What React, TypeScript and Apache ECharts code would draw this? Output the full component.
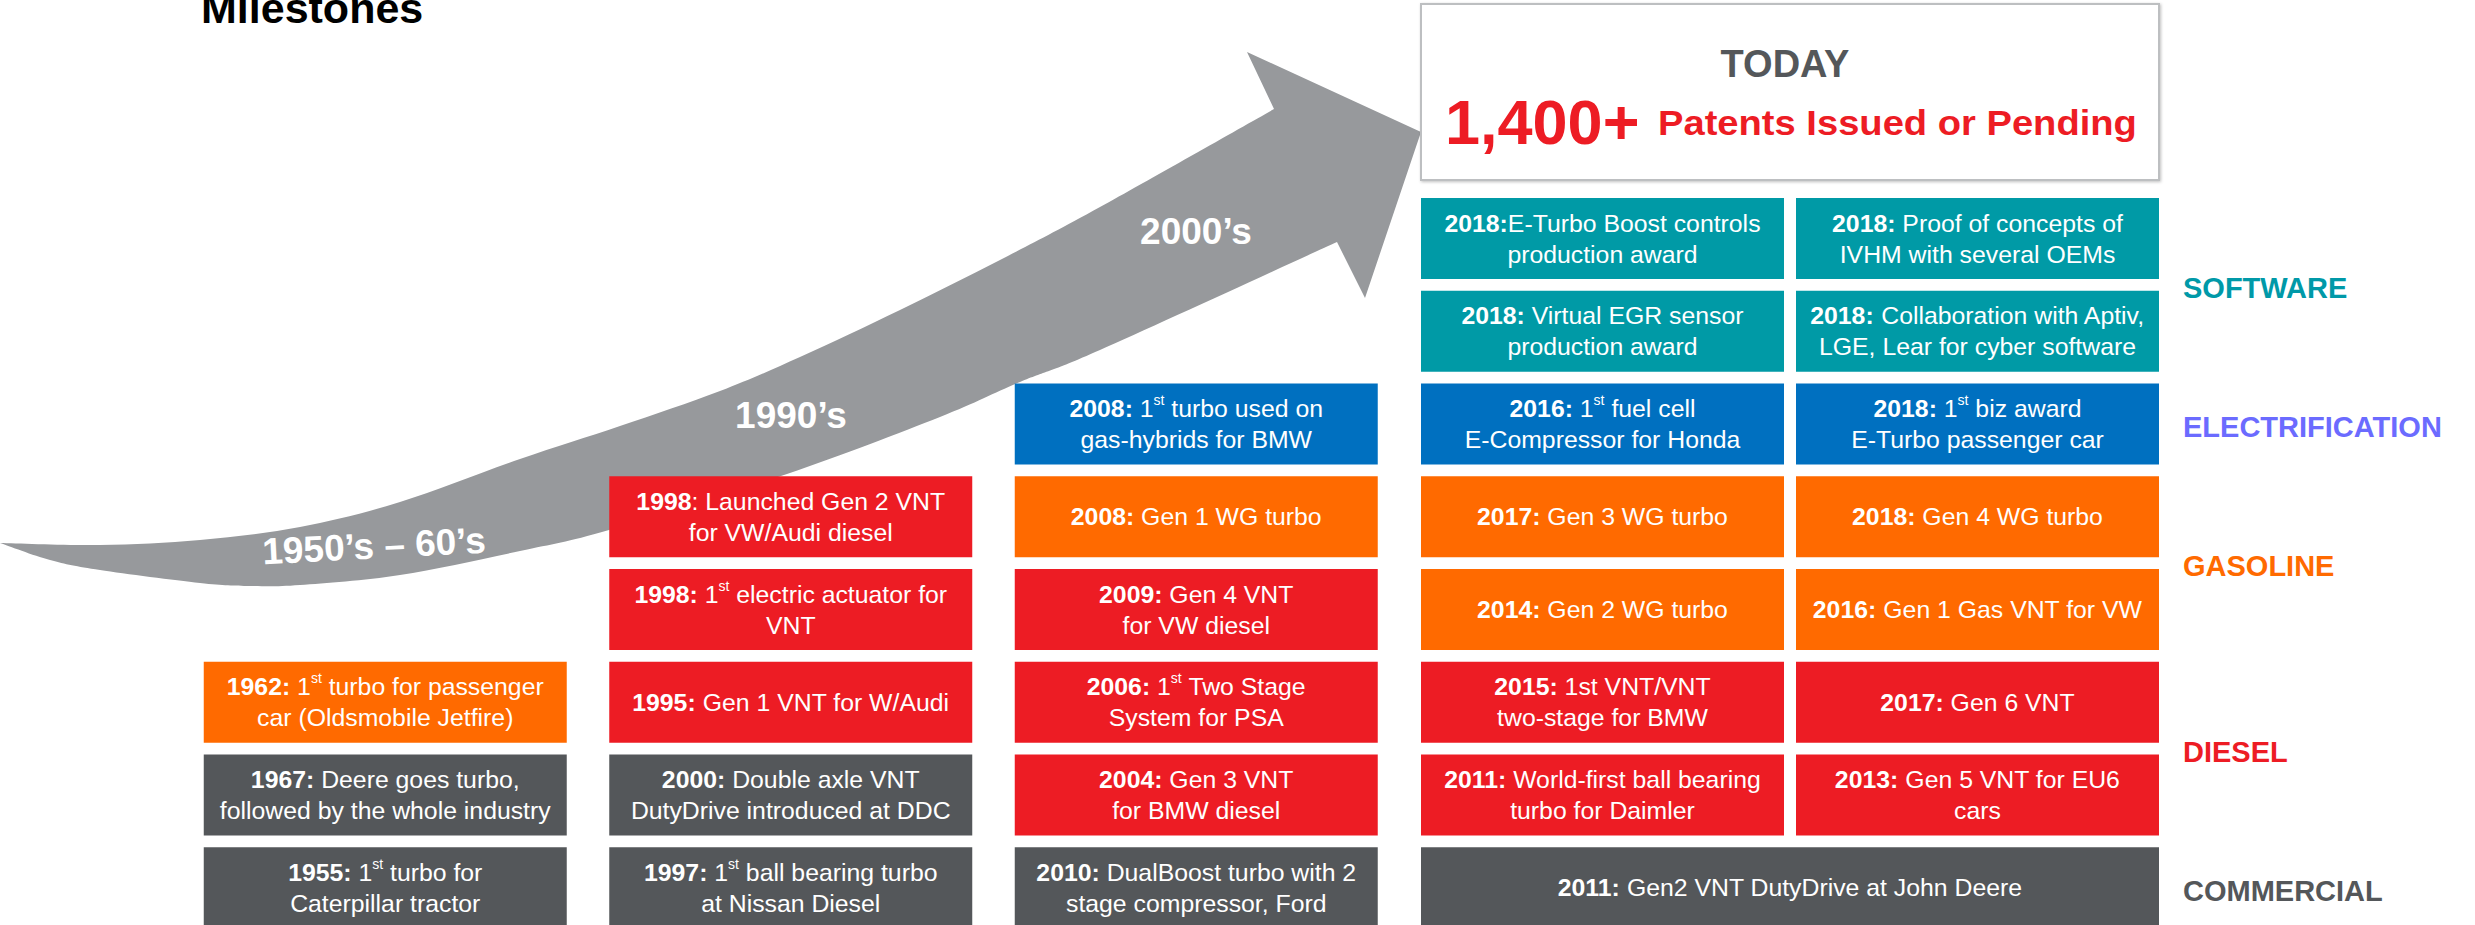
import React, { useEffect, useRef } from 'react';
import * as echarts from 'echarts';

const FONT = "'Liberation Sans', Arial, Helvetica, sans-serif";

// ---------- data ----------
const chartTitle = 'Milestones';
const todayLabel = 'TODAY';
const patentCount = '1,400+';
const patentText = 'Patents Issued or Pending';

const historyColumns = ['1950s-60s', '1990s', '2000s'];
const todayColumns = ['Today A', 'Today B'];
const rowNames = [
  'Software 1', 'Software 2', 'Electrification', 'Gasoline 1',
  'Gasoline 2', 'Diesel 1', 'Diesel 2', 'Commercial',
];

const eraLabels = ['1950\u2019s \u2013 60\u2019s', '1990\u2019s', '2000\u2019s'];

const segmentNames = ['SOFTWARE', 'ELECTRIFICATION', 'GASOLINE', 'DIESEL', 'COMMERCIAL'];
const segmentFirstRow = [0, 2, 3, 5, 7];
const segmentLastRow = [1, 2, 4, 6, 7];
const segmentColors = ['#0099A8', '#6B6BFF', '#FF6A00', '#ED1C24', '#54575A'];

const kindColors: Record<string, string> = {
  software: '#009AA6',
  electrification: '#0070C0',
  gasoline: '#FF6A00',
  diesel: '#ED1C24',
  commercial: '#54575A',
};

// [column, row, column span, kind, bold year, text]  ("^st" = superscript)
type Milestone = [number, number, number, string, string, string];

const historyMilestones: Milestone[] = [
  [0, 5, 1, 'gasoline', '1962:', ' 1^st turbo for passenger\ncar (Oldsmobile Jetfire)'],
  [0, 6, 1, 'commercial', '1967:', ' Deere goes turbo,\nfollowed by the whole industry'],
  [0, 7, 1, 'commercial', '1955:', ' 1^st turbo for\nCaterpillar tractor'],
  [1, 3, 1, 'diesel', '1998', ': Launched Gen 2 VNT\nfor VW/Audi diesel'],
  [1, 4, 1, 'diesel', '1998:', ' 1^st electric actuator for\nVNT'],
  [1, 5, 1, 'diesel', '1995:', ' Gen 1 VNT for W/Audi'],
  [1, 6, 1, 'commercial', '2000:', ' Double axle VNT\nDutyDrive introduced at DDC'],
  [1, 7, 1, 'commercial', '1997:', ' 1^st ball bearing turbo\nat Nissan Diesel'],
  [2, 2, 1, 'electrification', '2008:', ' 1^st turbo used on\ngas-hybrids for BMW'],
  [2, 3, 1, 'gasoline', '2008:', ' Gen 1 WG turbo'],
  [2, 4, 1, 'diesel', '2009:', ' Gen 4 VNT\nfor VW diesel'],
  [2, 5, 1, 'diesel', '2006:', ' 1^st Two Stage\nSystem for PSA'],
  [2, 6, 1, 'diesel', '2004:', ' Gen 3 VNT\nfor BMW diesel'],
  [2, 7, 1, 'commercial', '2010:', ' DualBoost turbo with 2\nstage compressor, Ford'],
];

const todayMilestones: Milestone[] = [
  [0, 0, 1, 'software', '2018:', 'E-Turbo Boost controls\nproduction award'],
  [1, 0, 1, 'software', '2018:', ' Proof of concepts of\nIVHM with several OEMs'],
  [0, 1, 1, 'software', '2018:', ' Virtual EGR sensor\nproduction award'],
  [1, 1, 1, 'software', '2018:', ' Collaboration with Aptiv,\nLGE, Lear for cyber software'],
  [0, 2, 1, 'electrification', '2016:', ' 1^st fuel cell\nE-Compressor for Honda'],
  [1, 2, 1, 'electrification', '2018:', ' 1^st biz award\nE-Turbo passenger car'],
  [0, 3, 1, 'gasoline', '2017:', ' Gen 3 WG turbo'],
  [1, 3, 1, 'gasoline', '2018:', ' Gen 4 WG turbo'],
  [0, 4, 1, 'gasoline', '2014:', ' Gen 2 WG turbo'],
  [1, 4, 1, 'gasoline', '2016:', ' Gen 1 Gas VNT for VW'],
  [0, 5, 1, 'diesel', '2015:', ' 1st VNT/VNT\ntwo-stage for BMW'],
  [1, 5, 1, 'diesel', '2017:', ' Gen 6 VNT'],
  [0, 6, 1, 'diesel', '2011:', ' World-first ball bearing\nturbo for Daimler'],
  [1, 6, 1, 'diesel', '2013:', ' Gen 5 VNT for EU6\ncars'],
  [0, 7, 2, 'commercial', '2011:', ' Gen2 VNT DutyDrive at John Deere'],
];

// ---------- decorative arrow outline ----------
const ARROW_UPPER = [[0, 543], [100, 545], [200, 540], [300, 527], [400, 502], [520, 459], [620, 426], [720, 391], [800, 357], [900, 310], [1000, 260], [1100, 207], [1274, 109]];
const ARROW_HEAD = [[1247, 52], [1421, 132], [1365, 298], [1337, 242]];
const ARROW_LOWER = [[1337, 242], [1100, 350], [1020, 382], [940, 417], [787, 474], [609, 530], [520, 551], [400, 575], [300, 585], [250, 586], [200, 583], [100, 570], [50, 560], [0, 543]];

function splinePath(pts: number[][]) {
  let d = '';
  for (let i = 0; i < pts.length - 1; i++) {
    const p0 = pts[Math.max(i - 1, 0)];
    const p1 = pts[i];
    const p2 = pts[i + 1];
    const p3 = pts[Math.min(i + 2, pts.length - 1)];
    const c1x = p1[0] + (p2[0] - p0[0]) / 6;
    const c1y = p1[1] + (p2[1] - p0[1]) / 6;
    const c2x = p2[0] - (p3[0] - p1[0]) / 6;
    const c2y = p2[1] - (p3[1] - p1[1]) / 6;
    d += ` C${c1x.toFixed(1)} ${c1y.toFixed(1)} ${c2x.toFixed(1)} ${c2y.toFixed(1)} ${p2[0]} ${p2[1]}`;
  }
  return d;
}

const arrowD =
  `M${ARROW_UPPER[0][0]} ${ARROW_UPPER[0][1]}` +
  splinePath(ARROW_UPPER) +
  ARROW_HEAD.map((p) => ` L${p[0]} ${p[1]}`).join('') +
  splinePath(ARROW_LOWER) +
  ' Z';

echarts.graphic.registerShape('milestoneArrow', echarts.graphic.extendPath(arrowD, {}));

// ---------- styles ----------
const BOX_W = 363;
const BOX_H = 81;
const BOX_FONT = 24.8;
const BOX_LINE = 31;
const ROW_TOP_CENTER = 238.5;
const ROW_PITCH = 92.75;

const RICH = {
  b: { fontFamily: FONT, fontSize: BOX_FONT, fontWeight: 'bold', lineHeight: BOX_LINE, fill: '#fff' },
  r: { fontFamily: FONT, fontSize: BOX_FONT, fontWeight: 'normal', lineHeight: BOX_LINE, fill: '#fff' },
  s: { fontFamily: FONT, fontSize: 14, fontWeight: 'normal', lineHeight: 20, verticalAlign: 'top', fill: '#fff' },
};

function lineTokens(line: string) {
  const parts = line.split('^st');
  let out = '';
  parts.forEach((p, i) => {
    if (i > 0) out += '{s|st}';
    if (p.length) out += `{r|${p}}`;
  });
  return out;
}

function richText(year: string, rest: string) {
  const lines = rest.split('\n');
  return lines.map((l, i) => (i === 0 ? `{b|${year}}` : '') + lineTokens(l)).join('\n');
}

function boxRenderer(items: Milestone[]) {
  return (params: any, api: any) => {
    const it = items[params.dataIndex];
    const start = api.coord([api.value(0), api.value(1)]);
    const end = api.coord([api.value(0) + api.value(2) - 1, api.value(1)]);
    const x = start[0] - BOX_W / 2;
    const w = end[0] - start[0] + BOX_W;
    const y = start[1] - BOX_H / 2;
    return {
      type: 'group',
      children: [
        { type: 'rect', shape: { x, y, width: w, height: BOX_H }, style: { fill: kindColors[it[3]] } },
        {
          type: 'text',
          style: {
            text: richText(it[4], it[5]),
            x: x + w / 2,
            y: start[1],
            align: 'center',
            verticalAlign: 'middle',
            fill: '#fff',
            fontFamily: FONT,
            fontSize: BOX_FONT,
            lineHeight: BOX_LINE,
            rich: RICH,
          },
        },
      ],
    };
  };
}

function segmentRenderer(params: any, api: any) {
  const i = params.dataIndex;
  const a = api.coord([api.value(0), api.value(1)]);
  const b = api.coord([api.value(0), api.value(2)]);
  return {
    type: 'text',
    style: {
      text: segmentNames[i],
      x: a[0] + BOX_W / 2 + 24,
      y: (a[1] + b[1]) / 2 + 3,
      align: 'left',
      verticalAlign: 'middle',
      fill: segmentColors[i],
      fontFamily: FONT,
      fontSize: 29,
      fontWeight: 'bold',
    },
  };
}

export default function App() {
  const ref = useRef<HTMLDivElement>(null);

  useEffect(() => {
    if (!ref.current) return;
    const chart = echarts.init(ref.current, undefined, { renderer: 'svg' });

    const eraPos = [
      { x: 374, y: 546, rot: 3 },
      { x: 791, y: 415, rot: 0 },
      { x: 1196, y: 231, rot: 0 },
    ];

    const gridTop = ROW_TOP_CENTER;
    const gridHeight = ROW_PITCH * (rowNames.length - 1);

    const option: any = {
      animation: false,
      backgroundColor: '#ffffff',
      grid: [
        { left: 182.5, top: gridTop, width: 1216.5, height: gridHeight },
        { left: 1415, top: gridTop, width: 750, height: gridHeight },
      ],
      xAxis: [
        { type: 'category', gridIndex: 0, data: historyColumns, show: false },
        { type: 'category', gridIndex: 1, data: todayColumns, show: false },
      ],
      yAxis: [
        { type: 'category', gridIndex: 0, data: rowNames, inverse: true, boundaryGap: false, show: false },
        { type: 'category', gridIndex: 1, data: rowNames, inverse: true, boundaryGap: false, show: false },
      ],
      graphic: [
        { type: 'milestoneArrow', x: 0, y: 0, z: 1, style: { fill: '#97999C' } },
        ...eraLabels.map((t, i) => ({
          type: 'text',
          x: eraPos[i].x,
          y: eraPos[i].y,
          rotation: (eraPos[i].rot * Math.PI) / 180,
          z: 2,
          style: {
            text: t,
            x: 0,
            y: 0,
            align: 'center',
            verticalAlign: 'middle',
            fill: '#ffffff',
            fontFamily: FONT,
            fontSize: 37,
            fontWeight: 'bold',
          },
        })),
        {
          type: 'text',
          x: 201,
          y: 8,
          z: 2,
          style: { text: chartTitle, x: 0, y: 0, align: 'left', verticalAlign: 'middle', fill: '#000', fontFamily: FONT, fontSize: 43, fontWeight: 'bold' },
        },
        {
          type: 'rect',
          z: 2,
          shape: { x: 1421, y: 4, width: 738, height: 176 },
          style: { fill: '#fff', stroke: '#BDBFC1', lineWidth: 2, shadowBlur: 3, shadowOffsetX: 1, shadowOffsetY: 1, shadowColor: 'rgba(0,0,0,0.25)' },
        },
        {
          type: 'text',
          x: 1785,
          y: 64,
          z: 3,
          style: { text: todayLabel, x: 0, y: 0, align: 'center', verticalAlign: 'middle', fill: '#54575A', fontFamily: FONT, fontSize: 38, fontWeight: 'bold' },
        },
        {
          type: 'text',
          x: 1445,
          y: 122,
          z: 3,
          style: { text: patentCount, x: 0, y: 0, align: 'left', verticalAlign: 'middle', fill: '#ED1C24', fontFamily: FONT, fontSize: 63, fontWeight: 'bold' },
        },
        {
          type: 'text',
          x: 1658,
          y: 123,
          scaleX: 1.09,
          z: 3,
          style: { text: patentText, x: 0, y: 0, align: 'left', verticalAlign: 'middle', fill: '#ED1C24', fontFamily: FONT, fontSize: 35, fontWeight: 'bold' },
        },
      ],
      series: [
        {
          type: 'custom',
          name: 'History',
          xAxisIndex: 0,
          yAxisIndex: 0,
          z: 5,
          renderItem: boxRenderer(historyMilestones),
          data: historyMilestones.map((m) => [m[0], m[1], m[2]]),
        },
        {
          type: 'custom',
          name: 'Today',
          xAxisIndex: 1,
          yAxisIndex: 1,
          z: 5,
          renderItem: boxRenderer(todayMilestones),
          data: todayMilestones.map((m) => [m[0], m[1], m[2]]),
        },
        {
          type: 'custom',
          name: 'Segments',
          xAxisIndex: 1,
          yAxisIndex: 1,
          z: 5,
          renderItem: segmentRenderer,
          data: segmentNames.map((_, i) => [1, segmentFirstRow[i], segmentLastRow[i]]),
        },
      ],
    };

    chart.setOption(option);
    return () => chart.dispose();
  }, []);

  return (
    <div
      ref={ref}
      style={{ position: 'fixed', left: 0, top: 0, width: 2475, height: 925, background: '#fff' }}
    />
  );
}
